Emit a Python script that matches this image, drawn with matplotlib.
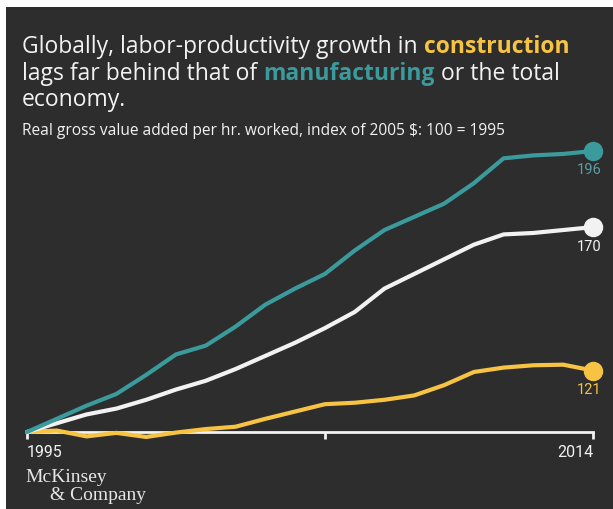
import matplotlib.pyplot as plt
from matplotlib.patches import Rectangle

# Data (index, 1995 = 100)
years = list(range(1995, 2015))
manufacturing = [100, 104.5, 109, 113, 119.5, 126.5, 129.5, 136, 143.5, 149,
                 154, 162, 169, 173.5, 178, 185, 193.5, 194.5, 195, 196]
total = [100, 103, 106, 108, 111, 114.5, 117.5, 121.5, 126, 130.5,
         135.5, 141, 149, 154, 159, 164, 167.5, 168, 169, 170]
construction = [100, 100.5, 98.5, 99.7, 98.3, 99.8, 101, 101.8, 104.5, 107,
                109.5, 110, 111, 112.5, 116, 120.5, 122, 122.8, 123, 121]

BG = '#2d2d2d'
TEAL = '#3a9a9c'
TEAL_LBL = '#5a9fa2'
WHITE = '#f2f2f2'
YELLOW = '#f6c343'

W, H = 613, 509
fig = plt.figure(figsize=(W / 100, H / 100), dpi=100, facecolor='white')
fig.patches.append(Rectangle((6 / W, 0), 1, (H - 7) / H, transform=fig.transFigure,
                             facecolor=BG, edgecolor='none', zorder=-5))

# axes: 1995 at x=27px, 2014 at x=593px; 100 at y=432px, 196 at y=151px (from top)
ax = fig.add_axes([27 / W, 77 / H, 566 / W, 281 / H])
ax.set_facecolor('none')
ax.set_xlim(1995, 2014)
ax.set_ylim(100, 196)

for vals, col in [(construction, YELLOW), (total, WHITE), (manufacturing, TEAL)]:
    ax.plot(years, vals, color=col, lw=3, solid_capstyle='round',
            solid_joinstyle='round', clip_on=False, zorder=3)
    ax.plot(years[-1], vals[-1], 'o', color=col, ms=13, clip_on=False, zorder=4)

for vals, col in [(manufacturing, TEAL_LBL), (total, WHITE), (construction, YELLOW)]:
    ax.annotate(f'{vals[-1]:.0f}', (years[-1], vals[-1]), xytext=(6, -9),
                textcoords='offset points', ha='right', va='top',
                color=col, fontsize=10.5, family='Roboto')

for s in ['top', 'right', 'left']:
    ax.spines[s].set_visible(False)
ax.spines['bottom'].set_color(WHITE)
ax.spines['bottom'].set_linewidth(2)
ax.set_yticks([])
ax.set_xticks([1995, 2005, 2014])
ax.tick_params(axis='x', direction='out', length=5, width=2, color=WHITE, labelbottom=False)

ax.text(1995, -0.045, '1995', transform=ax.get_xaxis_transform(), ha='left', va='top',
        color=WHITE, fontsize=11.5, family='Roboto')
ax.text(2014, -0.045, '2014', transform=ax.get_xaxis_transform(), ha='right', va='top',
        color=WHITE, fontsize=11.5, family='Roboto')

# Title with coloured words
fig.canvas.draw()
renderer = fig.canvas.get_renderer()


def put_line(parts, x, y):
    for txt, col, wt in parts:
        t = fig.text(x, y, txt, color=col, fontsize=16.5, fontweight=wt,
                     family='Open Sans', va='baseline', ha='left')
        bb = t.get_window_extent(renderer=renderer)
        x += bb.width / W


x0 = 22 / W
put_line([('Globally, labor-productivity growth in ', WHITE, 'normal'),
          ('construction', YELLOW, 'bold')], x0, 1 - 53 / H)
put_line([('lags far behind that of ', WHITE, 'normal'),
          ('manufacturing', TEAL, 'bold'),
          (' or the total', WHITE, 'normal')], x0, 1 - 80 / H)
put_line([('economy.', WHITE, 'normal')], x0, 1 - 106 / H)

fig.text(x0, 1 - 135 / H, 'Real gross value added per hr. worked, index of 2005 $: 100 = 1995',
         color=WHITE, fontsize=11.2, family='Open Sans', va='baseline')

fig.text(25 / W, 1 - 482 / H, 'McKinsey', color='#e6e6e6', fontsize=14,
         family='Liberation Serif', va='baseline')
fig.text(50 / W, 1 - 500 / H, '& Company', color='#e6e6e6', fontsize=14,
         family='Liberation Serif', va='baseline')

fig.savefig('out.png', dpi=100, facecolor=fig.get_facecolor())
